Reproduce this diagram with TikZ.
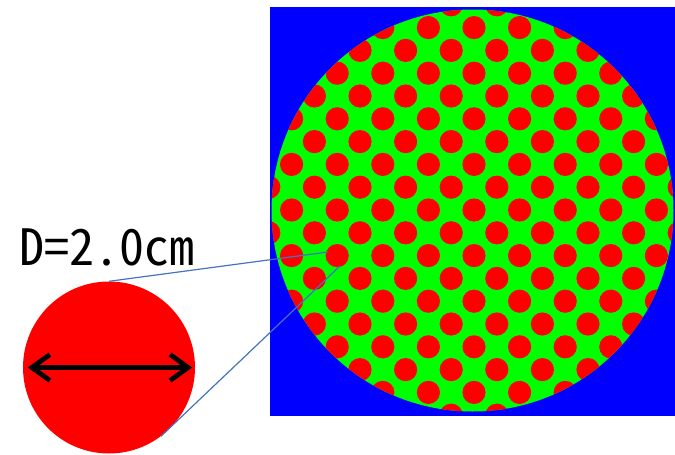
\documentclass[tikz,border=0pt]{standalone}
\usepackage{fontspec}
\newfontfamily\cjk[RawFeature=+hwid]{Noto Sans CJK JP}
\usepackage{tikz}
\usetikzlibrary{arrows.meta,calc}
\definecolor{pureblue}{RGB}{0,0,255}
\definecolor{puregreen}{RGB}{0,255,0}
\definecolor{purered}{RGB}{255,0,0}
\definecolor{leader}{RGB}{68,114,196}
\tikzset{
  bg/.style={fill=pureblue},
  disk/.style={fill=puregreen},
  dotr/.style={fill=purered},
  grain/.style={circle,fill=purered,minimum size=172pt,inner sep=0pt},
  dimarr/.style={{Straight Barb[length=18pt,width=26pt]}-{Straight Barb[length=18pt,width=26pt]},
    line width=4.8pt,line cap=round,black},
  lead/.style={leader,line width=1.2pt},
  lbl/.style={font=\cjk\fontsize{50}{50}\selectfont,inner sep=0pt,anchor=base},
}

\begin{document}
\begin{tikzpicture}[x=1pt,y=-1pt]
  \useasboundingbox (0,0) rectangle (675,455);
  % blue frame with the packed cross-section
  \fill[bg] (270,7) rectangle (675,416);
  \fill[disk] (472.5,210.5) circle (201);
  \begin{scope}
    \clip (472.5,210.5) circle (201);
    % red grains on a diagonal lattice
    \foreach \r in {-9,...,9}{
      \foreach \c in {-5,...,5}{
        \fill[dotr] ({474+22.8*(2*\c+abs(mod(\r,2)))},{210+22.8*\r}) circle (11.6);}}
  \end{scope}
  % one grain, enlarged
  \node[grain] (grain) at (109,367.5) {};
  \draw[dimarr] ($(grain.west)+(5,0)$) -- ($(grain.east)+(-3,0)$);
  \node[lbl] (dlabel) at (107,265) {D=2.0cm};
  % leader lines to the picked grain
  \coordinate (pickA) at (328,252);
  \coordinate (pickB) at (340,266);
  \draw[lead] (grain.north) -- (pickA);
  \draw[lead] (grain.-53) -- (pickB);
\end{tikzpicture}
\end{document}
